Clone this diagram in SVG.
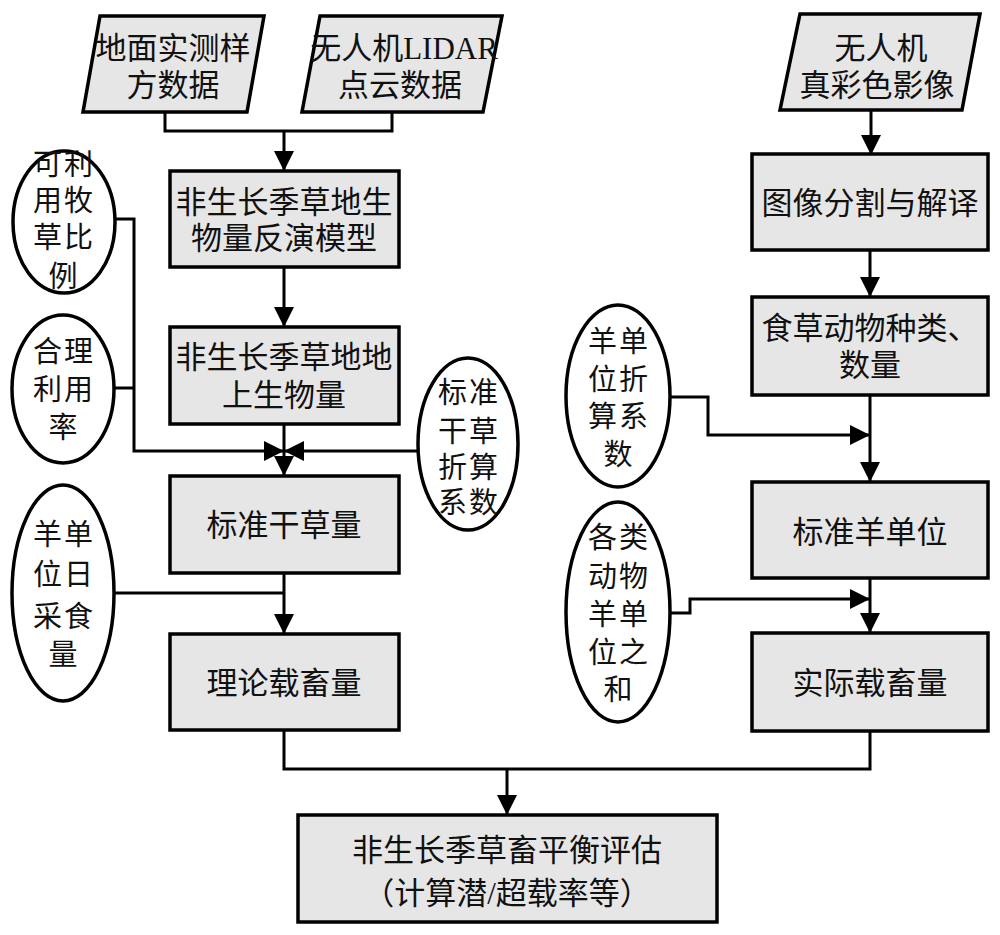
<svg xmlns="http://www.w3.org/2000/svg" width="1000" height="935" viewBox="0 0 1000 935">
<defs>
<marker id="ah" markerUnits="userSpaceOnUse" markerWidth="22" markerHeight="22" refX="20" refY="10" orient="auto">
<path d="M0,0 L20,10 L0,20 z" fill="#000"/>
</marker>
<style>
.box{fill:#e6e6e6;stroke:#000;stroke-width:3.5}
.ell{fill:#fff;stroke:#000;stroke-width:3.5}
.t{font-family:"Liberation Serif","Noto Sans CJK SC",serif;font-size:31px;fill:#111;text-anchor:middle;dominant-baseline:central}
.te{font-family:"Liberation Serif","Noto Sans CJK SC",serif;font-size:29px;fill:#111;text-anchor:middle;dominant-baseline:central;letter-spacing:2px}
.c{fill:none;stroke:#000;stroke-width:3}
</style>
</defs>
<rect width="1000" height="935" fill="#fff"/>
<g id="connectors">
<path class="c" d="M165,112 V131 H392 V112"/>
<path class="c" d="M284,131 V171" marker-end="url(#ah)"/>
<path class="c" d="M871,110 V155" marker-end="url(#ah)"/>
<path class="c" d="M870,250 V297" marker-end="url(#ah)"/>
<path class="c" d="M284,267 V327" marker-end="url(#ah)"/>
<path class="c" d="M284,424 V476" marker-end="url(#ah)"/>
<path class="c" d="M115,219 H134 V451 H284" marker-end="url(#ah)"/>
<path class="c" d="M115,388 H134"/>
<path class="c" d="M418,451 H284" marker-end="url(#ah)"/>
<path class="c" d="M115,593 H284"/>
<path class="c" d="M284,573 V634" marker-end="url(#ah)"/>
<path class="c" d="M670,397 H708 V435 H870" marker-end="url(#ah)"/>
<path class="c" d="M870,395 V482" marker-end="url(#ah)"/>
<path class="c" d="M670,613 H690 V599 H870" marker-end="url(#ah)"/>
<path class="c" d="M870,578 V633" marker-end="url(#ah)"/>
<path class="c" d="M284,730 V769 H870 V731"/>
<path class="c" d="M507,769 V815" marker-end="url(#ah)"/>
</g>
<g id="n_ground">
<polygon class="box" points="100,16 264,16 247,112 83,112"/>
<text class="t" x="173" y="48">地面实测样</text>
<text class="t" x="173" y="85">方数据</text>
</g>
<g id="n_lidar">
<polygon class="box" points="320,16 502,16 483,112 302,112"/>
<text class="t" x="404" y="48">无人机LIDAR</text>
<text class="t" x="400" y="85">点云数据</text>
</g>
<g id="n_rgb">
<polygon class="box" points="800,14 980,14 962,110 780,110"/>
<text class="t" x="881" y="48">无人机</text>
<text class="t" x="877" y="85">真彩色影像</text>
</g>
<g id="n_model">
<rect class="box" x="170" y="171" width="229" height="96"/>
<text class="t" x="284" y="202">非生长季草地生</text>
<text class="t" x="284" y="238">物量反演模型</text>
</g>
<g id="n_biomass">
<rect class="box" x="170" y="327" width="229" height="97"/>
<text class="t" x="284" y="357">非生长季草地地</text>
<text class="t" x="284" y="395">上生物量</text>
</g>
<g id="n_hay">
<rect class="box" x="170" y="476" width="229" height="97"/>
<text class="t" x="284" y="525">标准干草量</text>
</g>
<g id="n_theory">
<rect class="box" x="170" y="634" width="229" height="96"/>
<text class="t" x="284" y="683">理论载畜量</text>
</g>
<g id="n_seg">
<rect class="box" x="752" y="154" width="236" height="96"/>
<text class="t" x="870" y="203">图像分割与解译</text>
</g>
<g id="n_species">
<rect class="box" x="752" y="297" width="236" height="98"/>
<text class="t" x="870" y="328">食草动物种类、</text>
<text class="t" x="870" y="365">数量</text>
</g>
<g id="n_sheep">
<rect class="box" x="752" y="482" width="236" height="96"/>
<text class="t" x="870" y="532">标准羊单位</text>
</g>
<g id="n_actual">
<rect class="box" x="752" y="633" width="236" height="98"/>
<text class="t" x="870" y="683">实际载畜量</text>
</g>
<g id="n_balance">
<rect class="box" x="298" y="815" width="419" height="107"/>
<text class="t" x="507" y="850">非生长季草畜平衡评估</text>
<text class="t" x="507" y="893">（计算潜/超载率等）</text>
</g>
<g id="e_ratio">
<ellipse class="ell" cx="64" cy="222" rx="51" ry="71"/>
<text class="te" x="64" y="165">可利</text>
<text class="te" x="64" y="201">用牧</text>
<text class="te" x="64" y="238">草比</text>
<text class="te" x="64" y="277">例</text>
</g>
<g id="e_use">
<ellipse class="ell" cx="63" cy="389" rx="51" ry="74"/>
<text class="te" x="64" y="352">合理</text>
<text class="te" x="64" y="390">利用</text>
<text class="te" x="64" y="428">率</text>
</g>
<g id="e_intake">
<ellipse class="ell" cx="63" cy="593" rx="51" ry="108"/>
<text class="te" x="64" y="535">羊单</text>
<text class="te" x="64" y="575">位日</text>
<text class="te" x="64" y="617">采食</text>
<text class="te" x="64" y="655">量</text>
</g>
<g id="e_hayfactor">
<ellipse class="ell" cx="468" cy="444" rx="50" ry="86"/>
<text class="te" x="469" y="393">标准</text>
<text class="te" x="469" y="432">干草</text>
<text class="te" x="469" y="468">折算</text>
<text class="te" x="469" y="503">系数</text>
</g>
<g id="e_sheepfactor">
<ellipse class="ell" cx="618" cy="396" rx="52" ry="91"/>
<text class="te" x="619" y="342">羊单</text>
<text class="te" x="619" y="380">位折</text>
<text class="te" x="619" y="417">算系</text>
<text class="te" x="619" y="455">数</text>
</g>
<g id="e_sum">
<ellipse class="ell" cx="618" cy="612" rx="52" ry="110"/>
<text class="te" x="619" y="538">各类</text>
<text class="te" x="619" y="577">动物</text>
<text class="te" x="619" y="615">羊单</text>
<text class="te" x="619" y="653">位之</text>
<text class="te" x="619" y="690">和</text>
</g>
</svg>
